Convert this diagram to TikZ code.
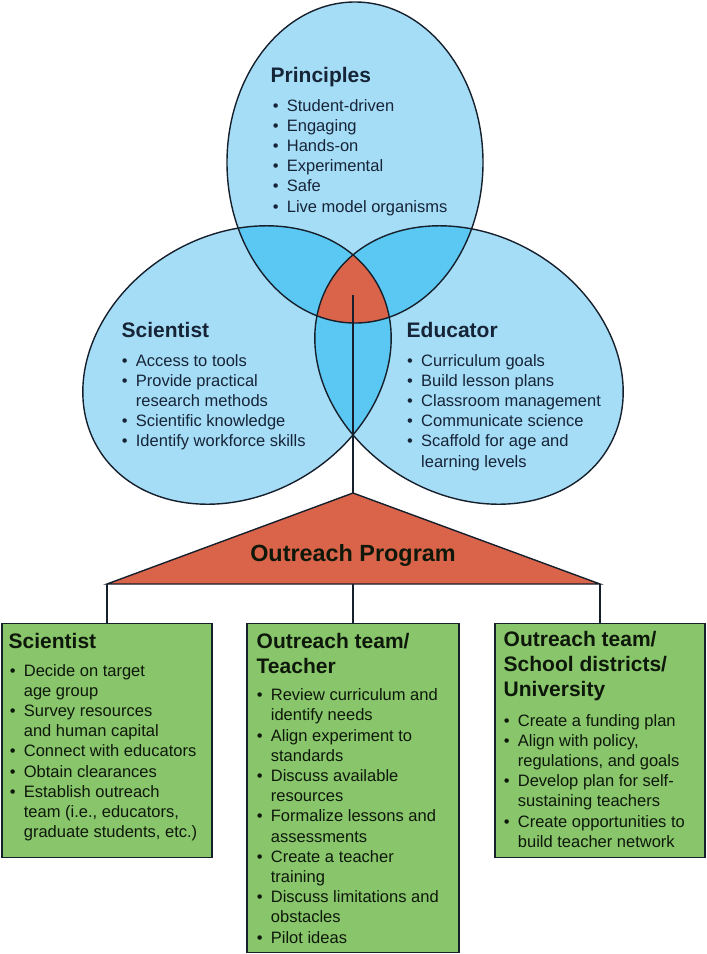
\documentclass[tikz,border=0pt]{standalone}
\usepackage{fontspec}
\setmainfont{Liberation Sans}
\definecolor{lblue}{RGB}{166,221,246}
\definecolor{mblue}{RGB}{90,200,242}
\definecolor{tred}{RGB}{218,100,73}
\definecolor{bgreen}{RGB}{136,197,107}
\definecolor{edgec}{RGB}{22,32,45}
\definecolor{etext}{RGB}{22,36,56}
\definecolor{btext}{RGB}{14,24,10}
\newcommand{\VennP}[1]{\path[#1] (355,162.5) ellipse [x radius=128pt, y radius=160.5pt];}
\newcommand{\VennS}[1]{\path[#1, rotate around={31:(237,365)}] (237,365) ellipse [x radius=162pt, y radius=130pt];}
\newcommand{\VennE}[1]{\path[#1, rotate around={-31:(469,365)}] (469,365) ellipse [x radius=162pt, y radius=130pt];}
\newcommand{\bul}{\makebox[14pt][l]{•}}
\newcommand{\cnt}{\hspace*{14pt}}
\begin{document}
\begin{tikzpicture}[x=1pt,y=-1pt,
  head/.style={anchor=base west, inner sep=0, align=left, font=\bfseries\fontsize{21}{25}\selectfont},
  ehead/.style={head, text=etext},
  bhead/.style={head, text=btext},
  blist/.style={anchor=base west, inner sep=0, align=left, font=\fontsize{16.5}{20.2}\selectfont},
  elist/.style={blist, text=etext},
  glist/.style={blist, text=btext},
  gbox/.style={draw=edgec, line width=1.3pt, fill=bgreen, anchor=north, inner sep=0},
  conn/.style={draw=edgec, line width=1.4pt},
  outl/.style={draw=edgec, line width=1.4pt},
]
\useasboundingbox (0,0) rectangle (707,954);
% fills
\VennP{fill=lblue}
\VennS{fill=lblue}
\VennE{fill=lblue}
\begin{scope}\VennP{clip}\VennS{fill=mblue}\VennE{fill=mblue}\end{scope}
\begin{scope}\VennS{clip}\VennE{fill=mblue}\end{scope}
\begin{scope}\VennP{clip}\VennS{clip}\VennE{fill=tred}\end{scope}
% outlines
\VennP{outl}
\VennS{outl}
\VennE{outl}
% ellipse texts (base anchor = baseline of last line)
\node[ehead] (hP) at (270.5,82.5) {Principles};
\node[elist] (lP) at (272.7,212) {\bul Student-driven\\\bul Engaging\\\bul Hands-on\\\bul Experimental\\\bul Safe\\\bul Live model organisms};
\node[ehead] (hS) at (121.5,337.5) {Scientist};
\node[elist] (lS) at (121.7,446.8) {\bul Access to tools\\\bul Provide practical\\\cnt research methods\\\bul Scientific knowledge\\\bul Identify workforce skills};
\node[ehead] (hE) at (406.5,337.5) {Educator};
\node[elist] (lE) at (407,467) {\bul Curriculum goals\\\bul Build lesson plans\\\bul Classroom management\\\bul Communicate science\\\bul Scaffold for age and\\\cnt learning levels};
% triangle
\coordinate (hub) at (353,295);
\coordinate (apex) at (353,493);
\coordinate (tl) at (107,584);
\coordinate (tr) at (600,584);
\coordinate (tb) at (353,584);
\draw[conn] (hub) -- (apex);
\draw[outl, fill=tred, line join=miter] (apex) -- (tr) -- (tl) -- cycle;
\node[anchor=base, inner sep=0, font=\bfseries\fontsize{23.4}{28}\selectfont, text=btext] (op) at (353,561.5) {Outreach Program};
% boxes
\node[gbox, minimum width=210pt, minimum height=234pt] (bL) at (107,623) {};
\node[gbox, minimum width=212pt, minimum height=329pt] (bM) at (353,623) {};
\node[gbox, minimum width=210pt, minimum height=234pt] (bR) at (600,623) {};
\draw[conn] (tl) -- (bL.north);
\draw[conn] (tb) -- (bM.north);
\draw[conn] (tr) -- (bR.north);
% box texts
\node[bhead] (hL) at (8.5,648) {Scientist};
\node[glist] (lL) at (9.7,837.6) {\bul Decide on target\\\cnt age group\\\bul Survey resources\\\cnt and human capital\\\bul Connect with educators\\\bul Obtain clearances\\\bul Establish outreach\\\cnt team (i.e., educators,\\\cnt graduate students, etc.)};
\node[bhead] (hM) at (256.5,673) {Outreach team/\\Teacher};
\node[glist] (lM) at (256.7,943.1) {\bul Review curriculum and\\\cnt identify needs\\\bul Align experiment to\\\cnt standards\\\bul Discuss available\\\cnt resources\\\bul Formalize lessons and\\\cnt assessments\\\bul Create a teacher\\\cnt training\\\bul Discuss limitations and\\\cnt obstacles\\\bul Pilot ideas};
\node[bhead] (hR) at (503.5,696.7) {Outreach team/\\School districts/\\University};
\node[glist] (lR) at (503.7,847.2) {\bul Create a funding plan\\\bul Align with policy,\\\cnt regulations, and goals\\\bul Develop plan for self-\\\cnt sustaining teachers\\\bul Create opportunities to\\\cnt build teacher network};
\end{tikzpicture}
\end{document}
